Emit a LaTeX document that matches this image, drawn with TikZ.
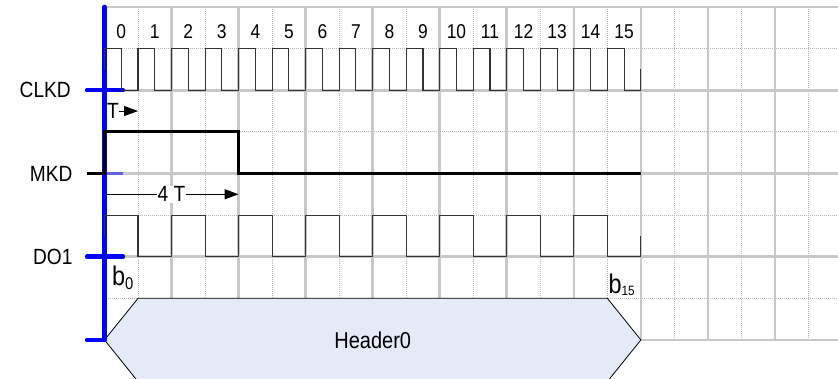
\documentclass[tikz,border=0pt]{standalone}
\usepackage{fontspec}
\setmainfont{Liberation Sans}[FakeStretch=0.87]
\usetikzlibrary{arrows.meta}
\definecolor{hdrfill}{RGB}{228,235,247}
\definecolor{gridgray}{RGB}{200,200,200}
\definecolor{dotgray}{RGB}{185,185,185}

\begin{document}
\begin{tikzpicture}[x=33.53pt,y=-41.625pt,
  majorgrid/.style={gridgray,line width=2.6pt},
  minorgrid/.style={dotgray,line width=0.9pt,dash pattern=on 1pt off 1pt},
  wave/.style={black!80,line width=1.1pt},
  axisline/.style={blue,line width=4.5pt,line cap=round},
  signame/.style={anchor=east,inner sep=0pt,font=\fontsize{22}{24}\selectfont},
  bitnum/.style={inner sep=0pt,font=\fontsize{20}{22}\selectfont},
  dimline/.style={line width=0.9pt,-{Triangle[length=14pt,width=10pt]}},
  dimtext/.style={fill=white,inner sep=1pt,font=\fontsize{22}{24}\selectfont},
  bitlbl/.style={anchor=base west,inner sep=0pt,font=\fontsize{27}{29}\selectfont}]
\useasboundingbox (-3.117,-0.168) rectangle (21.88,8.937);
% grid
\foreach \x in {1,3,...,21} \draw[minorgrid] (\x,0) -- (\x,8);
\foreach \y in {1,3,5,7} \draw[minorgrid] (0,\y) -- (22,\y);
\foreach \x in {0,2,...,22} \draw[majorgrid] (\x,0) -- (\x,8);
\foreach \y in {0,2,...,8} \draw[majorgrid] (0,\y) -- (22,\y);
% header field
\filldraw[fill=hdrfill,line width=0.8pt] (0,8) -- (1,7) -- (15,7) -- (16,8) -- (15,9) -- (1,9) -- cycle;
\node[font=\fontsize{23}{25}\selectfont] (hdr) at (8,8) {Header0};
% time marks
\coordinate (tA) at (0,2.5);
\coordinate (tB) at (1,2.5);
\draw[dimline] (tA) -- node[dimtext,pos=0.25,inner sep=0.5pt] (tlbl) {T} (tB);
\coordinate (fA) at (0,4.5);
\coordinate (fB) at (4,4.5);
\draw[dimline] (fA) -- node[dimtext] (flbl) {4 T} (fB);
% axis and ticks
\draw[axisline] (0,0) -- (0,8);
\draw[axisline] (-0.52,2) -- (0.55,2);
\draw[axisline] (-0.52,6) -- (0.55,6);
\draw[axisline] (-0.52,8) -- (0,8);
\draw[blue,line width=3pt,opacity=0.5] (0.05,4) -- (0.55,4);
% signals
\draw[wave] (0,1.5) -- (0,1) \foreach \i in {0,...,14} { -- (\i+0.5,1) -- (\i+0.5,2) -- (\i+1,2) -- (\i+1,1)}
  -- (15.5,1) -- (15.5,2) -- (16,2) -- (16,1.5);
\draw[black,line width=3pt] (-0.52,4) -- (0,4) -- (0,3) -- (4,3) -- (4,4) -- (16,4);
\draw[wave] (0,5.5) -- (0,5) \foreach \i in {0,2,...,12} { -- (\i+1,5) -- (\i+1,6) -- (\i+2,6) -- (\i+2,5)}
  -- (15,5) -- (15,6) -- (16,6) -- (16,5.5);
% labels
\node[signame] (clkd) at (-1.0,2) {CLKD};
\node[signame] (mkd) at (-0.95,4) {MKD};
\node[signame] (do1) at (-0.95,6) {DO1};
\foreach \i in {0,...,15} \node[bitnum] (n\i) at (\i+0.5,0.6) {\i};
\begin{scope}
\clip (0.1,6.1) rectangle (0.83,7);
\node[bitlbl] (b0) at (0.218,6.695) {b\raisebox{-4pt}{\fontsize{17}{17}\selectfont 0}};
\end{scope}
\begin{scope}
\clip (14.5,6.1) rectangle (15.93,7);
\node[bitlbl] (b15) at (15.03,6.888) {b\raisebox{-1.6pt}{\fontsize{13.5}{14}\selectfont 15}};
\end{scope}
\end{tikzpicture}
\end{document}
